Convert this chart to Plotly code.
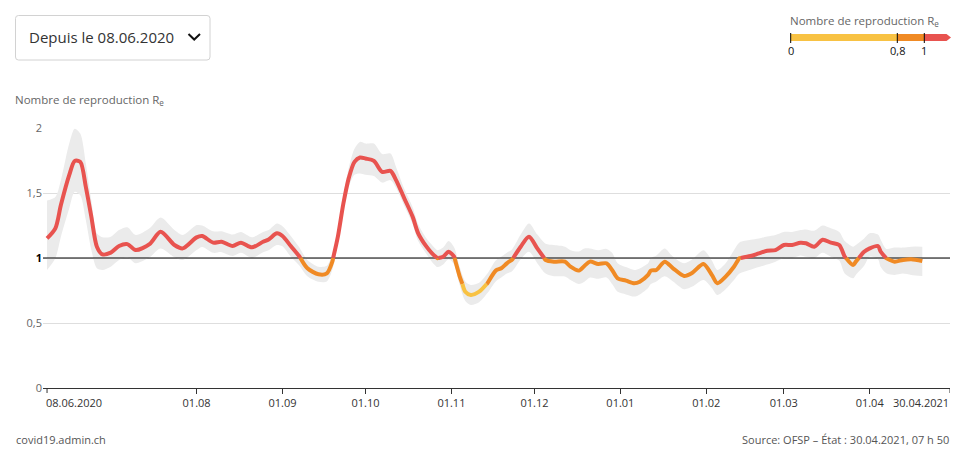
import plotly.graph_objects as go
import pandas as pd

# ---------------- data ----------------
dates = [
    "2020-06-08", "2020-06-11", "2020-06-13", "2020-06-16", "2020-06-18", "2020-06-20",
    "2020-06-22", "2020-06-24", "2020-06-26", "2020-06-28", "2020-07-01", "2020-07-04",
    "2020-07-07", "2020-07-10", "2020-07-15", "2020-07-19", "2020-07-24", "2020-07-27",
    "2020-08-01", "2020-08-03", "2020-08-07", "2020-08-10", "2020-08-14", "2020-08-17",
    "2020-08-21", "2020-08-25", "2020-08-27", "2020-08-30", "2020-09-01", "2020-09-04",
    "2020-09-07", "2020-09-10", "2020-09-14", "2020-09-17", "2020-09-19", "2020-09-21",
    "2020-09-23", "2020-09-25", "2020-09-27", "2020-09-29", "2020-10-01", "2020-10-04",
    "2020-10-07", "2020-10-10", "2020-10-12", "2020-10-15", "2020-10-18", "2020-10-20",
    "2020-10-23", "2020-10-25", "2020-10-27", "2020-10-29", "2020-10-31", "2020-11-02",
    "2020-11-04", "2020-11-06", "2020-11-08", "2020-11-11", "2020-11-14", "2020-11-17",
    "2020-11-19", "2020-11-21", "2020-11-23", "2020-11-26", "2020-11-29", "2020-12-02",
    "2020-12-05", "2020-12-08", "2020-12-12", "2020-12-14", "2020-12-17", "2020-12-19",
    "2020-12-21", "2020-12-24", "2020-12-27", "2020-12-29", "2020-12-31", "2021-01-03",
    "2021-01-06", "2021-01-08", "2021-01-11", "2021-01-12", "2021-01-14", "2021-01-17",
    "2021-01-20", "2021-01-24", "2021-01-27", "2021-01-31", "2021-02-03", "2021-02-05",
    "2021-02-08", "2021-02-11", "2021-02-13", "2021-02-17", "2021-02-20", "2021-02-23",
    "2021-02-26", "2021-03-01", "2021-03-04", "2021-03-07", "2021-03-09", "2021-03-12",
    "2021-03-15", "2021-03-18", "2021-03-21", "2021-03-23", "2021-03-26", "2021-03-27",
    "2021-03-30", "2021-04-01", "2021-04-04", "2021-04-05", "2021-04-07", "2021-04-10",
    "2021-04-13", "2021-04-16", "2021-04-20",
]

r_values = [
    1.151, 1.228, 1.407, 1.637, 1.747, 1.739,
    1.547, 1.317, 1.087, 1.028, 1.041, 1.092,
    1.107, 1.061, 1.107, 1.202, 1.100, 1.074,
    1.159, 1.169, 1.118, 1.125, 1.092, 1.118,
    1.082, 1.125, 1.143, 1.190, 1.169, 1.092,
    1.015, 0.921, 0.875, 0.882, 0.972, 1.164,
    1.420, 1.620, 1.740, 1.773, 1.765, 1.747,
    1.662, 1.670, 1.599, 1.458, 1.317, 1.190,
    1.087, 1.036, 0.998, 1.010, 1.048, 1.010,
    0.857, 0.741, 0.716, 0.741, 0.806, 0.903,
    0.921, 0.959, 0.990, 1.087, 1.164, 1.074,
    0.985, 0.972, 0.972, 0.933, 0.903, 0.939,
    0.972, 0.954, 0.959, 0.908, 0.844, 0.826,
    0.806, 0.818, 0.870, 0.903, 0.908, 0.972,
    0.921, 0.862, 0.887, 0.954, 0.870, 0.806,
    0.857, 0.933, 0.998, 1.015, 1.036, 1.056,
    1.061, 1.100, 1.100, 1.118, 1.113, 1.087,
    1.140, 1.118, 1.100, 1.010, 0.946, 0.972,
    1.048, 1.074, 1.092, 1.048, 0.998, 0.972,
    0.985, 0.990, 0.977,
]

ci_low = [
    0.908, 0.998, 1.164, 1.381, 1.509, 1.483,
    1.292, 1.061, 0.921, 0.908, 0.933, 0.985,
    1.005, 0.959, 1.005, 1.074, 1.005, 0.985,
    1.061, 1.085, 1.040, 1.045, 1.015, 1.040,
    1.000, 1.045, 1.060, 1.100, 1.090, 1.010,
    0.945, 0.860, 0.818, 0.820, 0.910, 1.110,
    1.360, 1.550, 1.640, 1.650, 1.640, 1.630,
    1.580, 1.599, 1.540, 1.400, 1.260, 1.130,
    1.030, 0.970, 0.930, 0.950, 0.990, 0.950,
    0.790, 0.670, 0.639, 0.660, 0.730, 0.820,
    0.850, 0.880, 0.900, 0.990, 1.048, 0.960,
    0.880, 0.860, 0.857, 0.830, 0.800, 0.818,
    0.850, 0.840, 0.850, 0.800, 0.740, 0.720,
    0.703, 0.720, 0.770, 0.800, 0.820, 0.860,
    0.820, 0.760, 0.780, 0.831, 0.770, 0.716,
    0.760, 0.830, 0.880, 0.910, 0.930, 0.950,
    0.972, 1.000, 1.000, 1.020, 1.010, 1.000,
    1.040, 1.010, 0.980, 0.880, 0.844, 0.870,
    0.940, 1.010, 0.990, 0.930, 0.882, 0.870,
    0.880, 0.870, 0.862,
]

ci_high = [
    1.443, 1.470, 1.599, 1.880, 1.995, 1.957,
    1.727, 1.443, 1.190, 1.159, 1.164, 1.215,
    1.236, 1.177, 1.228, 1.312, 1.215, 1.177,
    1.253, 1.250, 1.205, 1.205, 1.180, 1.200,
    1.160, 1.200, 1.215, 1.266, 1.245, 1.170,
    1.085, 0.985, 0.933, 0.940, 1.030, 1.220,
    1.480, 1.700, 1.840, 1.893, 1.880, 1.880,
    1.800, 1.803, 1.700, 1.530, 1.390, 1.260,
    1.150, 1.100, 1.060, 1.080, 1.130, 1.080,
    0.930, 0.820, 0.793, 0.810, 0.880, 0.980,
    1.010, 1.040, 1.070, 1.180, 1.266, 1.180,
    1.110, 1.100, 1.087, 1.060, 1.050, 1.074,
    1.074, 1.060, 1.070, 1.040, 0.960, 0.930,
    0.908, 0.920, 0.960, 1.000, 1.020, 1.074,
    1.010, 0.960, 0.990, 1.060, 0.980, 0.908,
    0.960, 1.060, 1.120, 1.140, 1.150, 1.165,
    1.177, 1.200, 1.200, 1.215, 1.220, 1.210,
    1.250, 1.228, 1.200, 1.130, 1.087, 1.100,
    1.150, 1.190, 1.180, 1.140, 1.070, 1.080,
    1.080, 1.087, 1.087,
]

x_tick_values = ["2020-06-08", "2020-08-01", "2020-09-01", "2020-10-01", "2020-11-01",
                 "2020-12-01", "2021-01-01", "2021-02-01", "2021-03-01", "2021-04-01",
                 "2021-04-30"]
x_tick_labels = ["08.06.2020", "01.08", "01.09", "01.10", "01.11", "01.12",
                 "01.01", "01.02", "01.03", "01.04", "30.04.2021"]
y_tick_values = [0, 0.5, 1, 1.5, 2]
y_tick_labels = ["0", "0,5", "<span style='color:#000000'><b>1</b></span>", "1,5", "2"]

thresholds = [0.8, 1.0]
legend_tick_labels = ["0", "0,8", "1"]

# ---------------- styling ----------------
FONT = "Open Sans"
C_YELLOW = "#f8c243"
C_ORANGE = "#f08a24"
C_RED = "#e8534f"
C_BAND = "#ebebeb"
C_GRID = "#dedede"
seg_colors = [C_YELLOW, C_ORANGE, C_RED]

W, H = 964, 458
ML, MR, MT, MB = 43, 14, 128, 70
PW, PH = W - ML - MR, H - MT - MB

def px(xp):
    return (xp - ML) / PW

def py(yp):
    return (H - MB - yp) / PH

x_start = pd.Timestamp("2020-06-08") - pd.Timedelta(hours=35)
x_end = pd.Timestamp("2021-04-30")

def category(v):
    if v > thresholds[1]:
        return 2
    if v > thresholds[0]:
        return 1
    return 0

# split the R line into coloured segments at the thresholds
t = (pd.to_datetime(dates).astype("int64") // 10**6).tolist()  # ms
segments = []
cur_c = category(r_values[0])
cur_x, cur_y = [t[0]], [r_values[0]]
for i in range(1, len(t)):
    x0, y0, x1, y1 = t[i - 1], r_values[i - 1], t[i], r_values[i]
    c1 = category(y1)
    if c1 != cur_c:
        crossings = [th for th in thresholds if min(y0, y1) <= th <= max(y0, y1)]
        crossings = sorted(crossings, reverse=(y1 < y0))
        for th in crossings:
            xc = x0 + (th - y0) / (y1 - y0) * (x1 - x0)
            cur_x.append(xc)
            cur_y.append(th)
            segments.append((cur_c, cur_x, cur_y))
            cur_c = category(th + (1e-6 if y1 > y0 else -1e-6))
            cur_x, cur_y = [xc], [th]
    cur_x.append(x1)
    cur_y.append(y1)
    cur_c = c1
segments.append((cur_c, cur_x, cur_y))

fig = go.Figure()

# confidence band
fig.add_trace(go.Scatter(x=dates, y=ci_high, mode="lines", line=dict(width=0, shape="spline", smoothing=0.8),
                         hoverinfo="skip", showlegend=False))
fig.add_trace(go.Scatter(x=dates, y=ci_low, mode="lines", line=dict(width=0, shape="spline", smoothing=0.8),
                         fill="tonexty", fillcolor=C_BAND, hoverinfo="skip", showlegend=False))

# reference line at R = 1
fig.add_trace(go.Scatter(x=[x_start, x_end], y=[thresholds[1], thresholds[1]], mode="lines",
                         line=dict(color="#000000", width=1.2), hoverinfo="skip", showlegend=False))

for c, xs, ys in segments:
    fig.add_trace(go.Scatter(x=pd.to_datetime(xs, unit="ms"), y=ys, mode="lines",
                             line=dict(color=seg_colors[c], width=4, shape="spline", smoothing=0.8),
                             showlegend=False))

shapes = []
annotations = []

# dropdown box
x0, x1, y0, y1 = px(15.5), px(210), py(15.5), py(60)
rx, ry = 3 / PW, 3 / PH
path = (f"M {x0+rx},{y0} L {x1-rx},{y0} Q {x1},{y0} {x1},{y0-ry} L {x1},{y1+ry} "
        f"Q {x1},{y1} {x1-rx},{y1} L {x0+rx},{y1} Q {x0},{y1} {x0},{y1+ry} "
        f"L {x0},{y0-ry} Q {x0},{y0} {x0+rx},{y0} Z")
shapes.append(dict(type="path", xref="paper", yref="paper", path=path,
                   line=dict(color="#d2d2d2", width=1), fillcolor="#ffffff"))
shapes.append(dict(type="path", xref="paper", yref="paper",
                   path=f"M {px(188.5)},{py(34)} L {px(194.2)},{py(39.5)} L {px(200)},{py(34)}",
                   line=dict(color="#111111", width=2)))
annotations.append(dict(xref="paper", yref="paper", x=px(27), y=py(37.5), xanchor="left", yanchor="middle",
                        text="Depuis le 08.06.2020", showarrow=False,
                        font=dict(family=FONT, size=15, color="#333333")))

# axis title
annotations.append(dict(xref="paper", yref="paper", x=px(13), y=py(100), xanchor="left", yanchor="middle",
                        text="Nombre de reproduction R<sub>e</sub>", showarrow=False,
                        font=dict(family=FONT, size=11.5, color="#666666")))

# colour legend (top right)
lx0, lx08, lx1, lx_end = 790.7, 897.3, 924.3, 946.5
by0, by1 = 34, 41
annotations.append(dict(xref="paper", yref="paper", x=px(788), y=py(21.5), xanchor="left", yanchor="middle",
                        text="Nombre de reproduction R<sub>e</sub>", showarrow=False,
                        font=dict(family=FONT, size=11.5, color="#666666")))
shapes.append(dict(type="rect", xref="paper", yref="paper", x0=px(lx0), x1=px(lx08), y0=py(by0), y1=py(by1),
                   fillcolor=C_YELLOW, line=dict(width=0)))
shapes.append(dict(type="rect", xref="paper", yref="paper", x0=px(lx08), x1=px(lx1), y0=py(by0), y1=py(by1),
                   fillcolor=C_ORANGE, line=dict(width=0)))
shapes.append(dict(type="path", xref="paper", yref="paper",
                   path=(f"M {px(lx1)},{py(by0)} L {px(lx_end)},{py(by0)} L {px(lx_end+4.5)},{py((by0+by1)/2)} "
                         f"L {px(lx_end)},{py(by1)} L {px(lx1)},{py(by1)} Z"),
                   fillcolor=C_RED, line=dict(width=0)))
for xp, lab in zip([lx0, lx08, lx1], legend_tick_labels):
    shapes.append(dict(type="line", xref="paper", yref="paper", x0=px(xp), x1=px(xp), y0=py(33), y1=py(43),
                       line=dict(color="#000000", width=1)))
    annotations.append(dict(xref="paper", yref="paper", x=px(xp), y=py(51), xanchor="center", yanchor="middle",
                            text=lab, showarrow=False, font=dict(family=FONT, size=11, color="#111111")))

# first / last x labels (anchored to the edges) and their tick marks
annotations.append(dict(xref="x", yref="paper", x=x_tick_values[0], y=0, xanchor="left", yanchor="top",
                        xshift=-3, yshift=-5, text=x_tick_labels[0], showarrow=False,
                        font=dict(family=FONT, size=11, color="#333333")))
annotations.append(dict(xref="x", yref="paper", x=x_tick_values[-1], y=0, xanchor="right", yanchor="top",
                        xshift=1, yshift=-5, text=x_tick_labels[-1], showarrow=False,
                        font=dict(family=FONT, size=11, color="#333333")))
for xv in (x_tick_values[0], x_tick_values[-1]):
    shapes.append(dict(type="line", xref="x", yref="paper", x0=xv, x1=xv, y0=0, y1=-5 / PH,
                       line=dict(color="#333333", width=1)))

# footer
annotations.append(dict(xref="paper", yref="paper", x=px(14), y=py(439), xanchor="left", yanchor="middle",
                        text="covid19.admin.ch", showarrow=False,
                        font=dict(family=FONT, size=11, color="#555555")))
annotations.append(dict(xref="paper", yref="paper", x=px(951), y=py(439), xanchor="right", yanchor="middle",
                        text="Source: OFSP – État : 30.04.2021, 07 h 50", showarrow=False,
                        font=dict(family=FONT, size=11, color="#555555")))

fig.update_layout(
    width=W, height=H,
    margin=dict(l=ML, r=MR, t=MT, b=MB, pad=0),
    paper_bgcolor="#ffffff", plot_bgcolor="#ffffff",
    separators=", ",
    font=dict(family=FONT, size=11, color="#333333"),
    showlegend=False,
    shapes=shapes,
    annotations=annotations,
    xaxis=dict(type="date", range=[x_start, x_end], tickmode="array", tickvals=x_tick_values[1:-1],
               ticktext=x_tick_labels[1:-1], ticks="outside", ticklen=5, tickcolor="#333333", tickwidth=1,
               showline=True, linecolor="#333333", linewidth=1, showgrid=False, zeroline=False,
               tickfont=dict(family=FONT, size=11, color="#333333"), fixedrange=True),
    yaxis=dict(range=[0, 2], tickmode="array", tickvals=y_tick_values, ticktext=y_tick_labels,
               showgrid=True, gridcolor=C_GRID, gridwidth=1, zeroline=False, showline=False,
               ticks="", tickfont=dict(family=FONT, size=11, color="#666666"), fixedrange=True),
)

fig.write_html("out.html")
